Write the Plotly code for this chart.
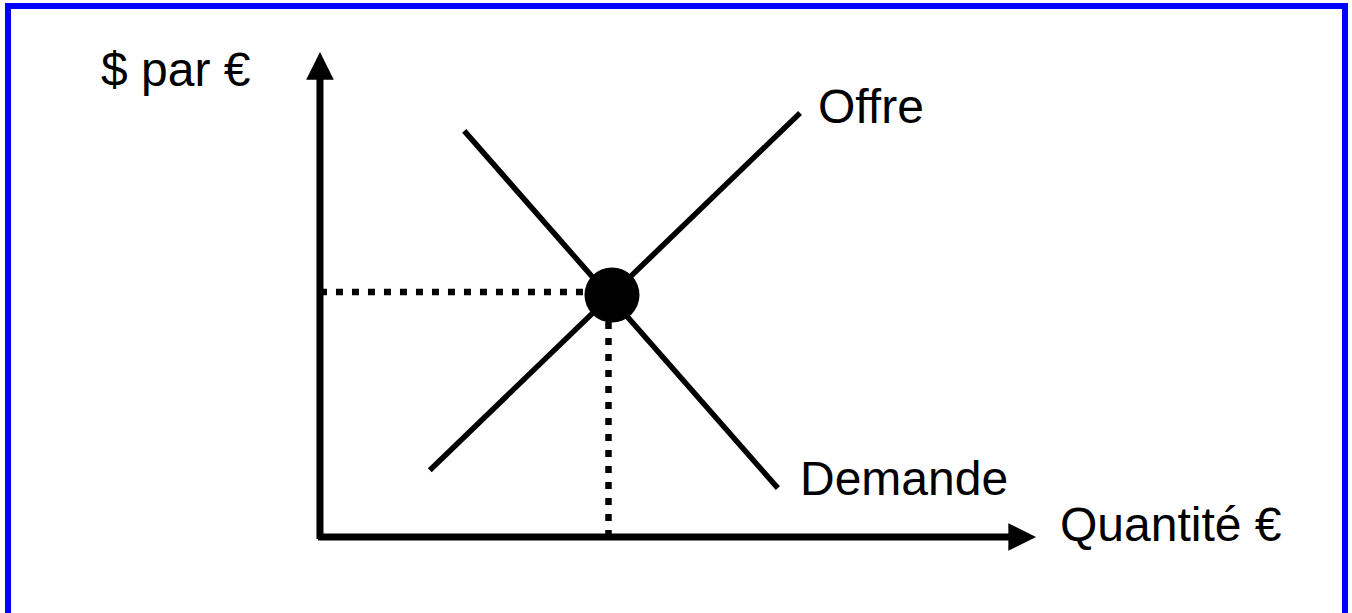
import plotly.graph_objects as go

# Courbes (quantité, prix) en unités du schéma
offre_q = [1.88, 8.22]
offre_p = [1.38, 8.76]
demande_q = [2.47, 7.84]
demande_p = [8.39, 1.01]

# Equilibre et repères pointillés
equilibre_q = [5.0]
equilibre_p = [5.0]
repere_q = 4.94
repere_p = 5.06

# Longueur des axes (pointe des flèches)
axe_q_max = 12.26
axe_p_max = 10.02

# Etiquettes
etiquettes = ["$ par €", "Offre", "Demande", "Quantité €"]
etiq_q = [-3.79, 8.50, 8.19, 12.64]
etiq_p = [9.65, 8.90, 1.20, 0.25]

W, H = 1352, 613
x_range = [-5.479, 17.671]
y_range = [-1.570, 11.095]

fig = go.Figure()

# Offre et demande
fig.add_trace(go.Scatter(x=offre_q, y=offre_p, mode='lines',
                         line=dict(color='black', width=5.5), hoverinfo='skip'))
fig.add_trace(go.Scatter(x=demande_q, y=demande_p, mode='lines',
                         line=dict(color='black', width=5.5), hoverinfo='skip'))

# Pointillés vers les axes
fig.add_trace(go.Scatter(x=[0, repere_q], y=[repere_p, repere_p], mode='lines',
                         line=dict(color='black', width=6.5, dash='7px,9px'), hoverinfo='skip'))
fig.add_trace(go.Scatter(x=[repere_q, repere_q], y=[0, repere_p], mode='lines',
                         line=dict(color='black', width=6.5, dash='7px,9px'), hoverinfo='skip'))

# Point d'équilibre
fig.add_trace(go.Scatter(x=equilibre_q, y=equilibre_p, mode='markers',
                         marker=dict(color='black', size=55), hoverinfo='skip'))

# Axes avec flèches
fig.add_annotation(x=0, y=axe_p_max, ax=0, ay=-0.07, xref='x', yref='y', axref='x', ayref='y',
                   text='', showarrow=True, arrowhead=2, arrowwidth=7, arrowsize=0.79,
                   arrowcolor='black')
fig.add_annotation(x=axe_q_max, y=0, ax=-0.06, ay=0, xref='x', yref='y', axref='x', ayref='y',
                   text='', showarrow=True, arrowhead=2, arrowwidth=7, arrowsize=0.79,
                   arrowcolor='black')

for t, q, p in zip(etiquettes, etiq_q, etiq_p):
    fig.add_annotation(x=q, y=p, xref='x', yref='y', text=t, showarrow=False,
                       xanchor='left', yanchor='middle',
                       font=dict(family='Liberation Sans, Arial', size=48, color='black'))

# Cadre bleu
fig.add_shape(type='rect', xref='paper', yref='paper',
              x0=8 / W, x1=1345 / W, y0=-3 / H, y1=1 - 6 / H,
              line=dict(color='#0000ff', width=6))

fig.update_layout(
    width=W, height=H,
    margin=dict(l=0, r=0, t=0, b=0),
    paper_bgcolor='white', plot_bgcolor='white',
    showlegend=False,
    xaxis=dict(range=x_range, visible=False, fixedrange=True),
    yaxis=dict(range=y_range, visible=False, fixedrange=True),
)

fig.write_html("out.html", config={'displayModeBar': False},
               post_script="document.body.style.margin='0';document.body.style.overflow='hidden';")
